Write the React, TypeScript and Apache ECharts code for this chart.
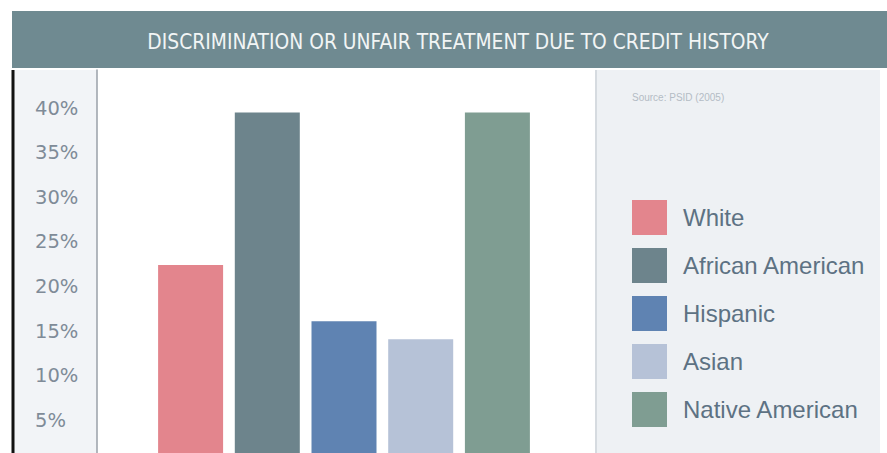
import React, { useEffect, useRef } from "react";
import * as echarts from "echarts";

const title = "DISCRIMINATION OR UNFAIR TREATMENT DUE TO CREDIT HISTORY";
const groups = ["White", "African American", "Hispanic", "Asian", "Native American"];
const values = [22.4, 39.5, 16.1, 14.1, 39.5];
const colors = ["#e3858d", "#6d848c", "#5f83b2", "#b6c2d7", "#7f9d92"];
const yTicks = [5, 10, 15, 20, 25, 30, 35, 40];
const sourceNote = "Source: PSID (2005)";

export default function App() {
  const ref = useRef<HTMLDivElement>(null);
  useEffect(() => {
    const chart = echarts.init(ref.current!, null, { renderer: "svg" });
    chart.setOption({
      animation: false,
      backgroundColor: "#ffffff",
      grid: { left: 97, right: 296, top: 70, bottom: 15, containLabel: false },
      xAxis: { type: "category", data: ["all"], show: false },
      yAxis: {
        type: "value",
        min: 0,
        max: 44.26,
        interval: 5,
        splitLine: { show: false },
        axisTick: { show: false },
        axisLine: { show: true, lineStyle: { color: "#9aa1a8", width: 1.5 } },
        axisLabel: {
          showMaxLabel: false,
          align: "left",
          margin: 62,
          fontFamily: "DejaVu Sans",
          fontSize: 19.5,
          color: "#7f8b98",
          formatter: (v: number) => (yTicks.includes(v) ? v + "%" : ""),
        },
      },
      legend: {
        orient: "vertical",
        left: 632,
        top: 200,
        padding: 0,
        itemWidth: 35,
        itemHeight: 35,
        itemGap: 13,
        icon: "rect",
        data: groups,
        textStyle: {
          fontFamily: "Liberation Sans",
          fontSize: 24,
          color: "#5d7283",
          padding: [0, 0, 0, 11],
        },
      },
      graphic: [
        { type: "rect", shape: { x: 14, y: 70, width: 83, height: 383 }, style: { fill: "#f2f4f7" }, z: -10 },
        { type: "rect", shape: { x: 595, y: 70, width: 285, height: 383 }, style: { fill: "#eef1f4" }, z: -10 },
        { type: "line", shape: { x1: 596, y1: 70, x2: 596, y2: 453 }, style: { stroke: "#d6dbe0", lineWidth: 2 }, z: -9 },
        { type: "line", shape: { x1: 13, y1: 70, x2: 13, y2: 453 }, style: { stroke: "#111111", lineWidth: 3 } },
        { type: "rect", shape: { x: 12, y: 11, width: 875, height: 57 }, style: { fill: "#6f8a91" } },
        {
          type: "text",
          x: 458,
          y: 42,
          style: {
            text: title,
            fill: "#f2f5f5",
            font: "20.8px 'DejaVu Sans Condensed', 'Liberation Sans', sans-serif",
            align: "center",
            verticalAlign: "middle",
          },
        },
        {
          type: "text",
          x: 632,
          y: 97,
          style: {
            text: sourceNote,
            fill: "#b4bcc5",
            font: "10px 'Liberation Sans', sans-serif",
            align: "left",
            verticalAlign: "middle",
          },
        },
      ],
      series: groups.map((g, i) => ({
        name: g,
        type: "bar",
        data: [values[i]],
        barWidth: 65,
        barGap: "18%",
        itemStyle: { color: colors[i] },
      })),
    });
    return () => chart.dispose();
  }, []);
  return (
    <div style={{ position: "fixed", left: 0, top: 0, width: 887, height: 453, overflow: "hidden" }}>
      <div ref={ref} style={{ width: 887, height: 480 }} />
    </div>
  );
}
